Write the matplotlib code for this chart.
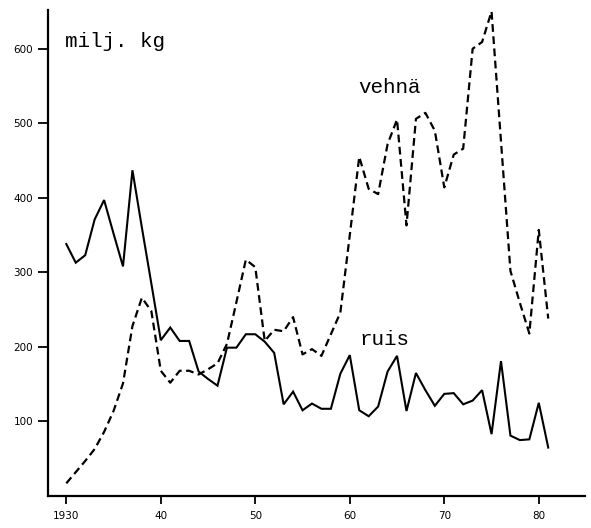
import numpy as np
import matplotlib
matplotlib.use("Agg")
import matplotlib.pyplot as plt

# harvest, million kg
years = list(range(1930, 1982))

ruis = [338, 313, 323, 371, 397, 352, 308, 437, 360, 285,
        209, 226, 208, 208, 167, 157, 148, 199, 199, 217,
        217, 207, 192, 123, 140, 115, 124, 117, 117, 164,
        189, 115, 107, 120, 167, 188, 114, 165, 142, 121,
        137, 138, 123, 128, 142, 83, 181, 81, 75, 76,
        125, 65]

vehna = [17, 32, 47, 63, 86, 114, 151, 228, 266, 248,
         168, 152, 168, 168, 163, 170, 178, 204, 260, 317,
         307, 208, 223, 221, 240, 190, 197, 188, 217, 246,
         350, 455, 412, 405, 472, 505, 363, 506, 514, 490,
         414, 458, 466, 600, 609, 650, 476, 302, 259, 218,
         357, 238]

y_ticks = [100, 200, 300, 400, 500, 600]
x_ticks = [1930, 1940, 1950, 1960, 1970, 1980]
x_labels = ["1930", "40", "50", "60", "70", "80"]

fig = plt.figure(figsize=(5.91, 5.28), dpi=100)
ax = fig.add_axes([0.081, 0.0606, 0.909, 0.9205])

ax.plot(years, ruis, color="black", lw=1.5, solid_joinstyle="miter")
ax.plot(years, vehna, color="black", lw=1.6, linestyle=(0, (3.5, 2.0)))

ax.set_xlim(1928.05, 1984.9)
ax.set_ylim(0, 652)

ax.set_xticks(x_ticks)
ax.set_xticklabels(x_labels)
ax.set_yticks(y_ticks)

for side in ["top", "right"]:
    ax.spines[side].set_visible(False)
for side in ["left", "bottom"]:
    ax.spines[side].set_linewidth(1.6)

ax.tick_params(axis="y", direction="out", length=7, width=1.3, pad=3.6, labelsize=7.5)
ax.tick_params(axis="x", direction="out", length=5.5, width=1.3, pad=5.0, labelsize=7.5)

mono = "Liberation Mono"
ax.text(1929.85, 603, "milj. kg", family=mono, fontsize=15, va="baseline", ha="left")
ax.text(1960.85, 541, "vehnä", family=mono, fontsize=15, va="baseline", ha="left")
ax.text(1961.05, 202, "ruis", family=mono, fontsize=15, va="baseline", ha="left")

fig.savefig("out.png", dpi=100)
